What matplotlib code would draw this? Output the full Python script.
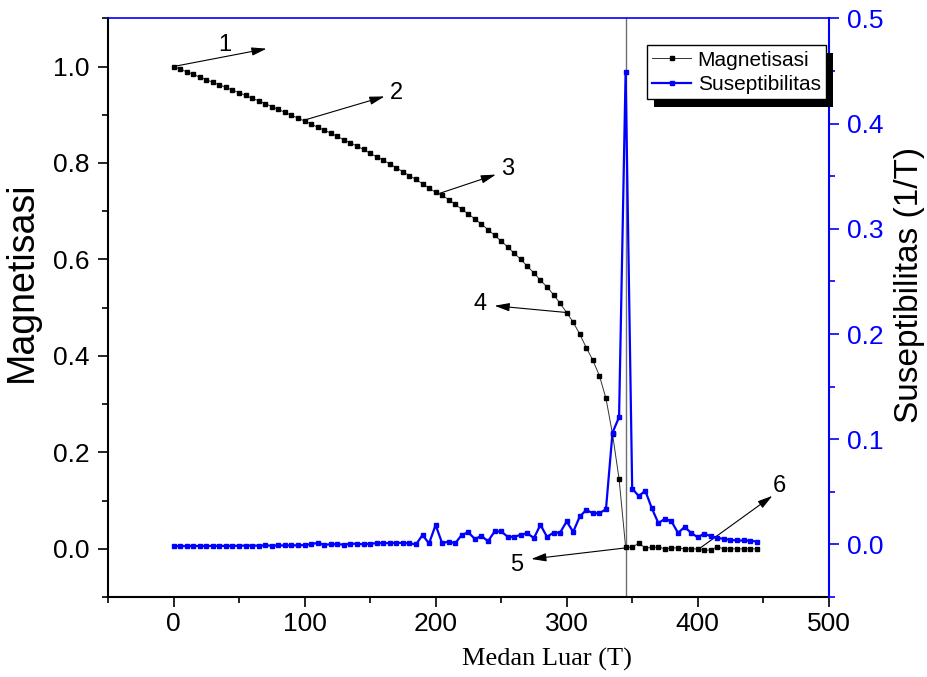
import numpy as np
import matplotlib
matplotlib.use("Agg")
import matplotlib.pyplot as plt
from matplotlib.patches import Rectangle
from matplotlib.ticker import MultipleLocator

# external field (T), one point every 5 T
medan = np.arange(0, 450, 5)

magnetisasi = [
    1.000, 0.995, 0.989, 0.984, 0.978, 0.973, 0.967, 0.962, 0.957, 0.951,
    0.946, 0.940, 0.934, 0.929, 0.923, 0.917, 0.911, 0.905, 0.899, 0.893,
    0.887, 0.881, 0.874, 0.868, 0.862, 0.855, 0.848, 0.842, 0.835, 0.828,
    0.820, 0.813, 0.806, 0.798, 0.790, 0.782, 0.774, 0.766, 0.757, 0.748,
    0.739, 0.733, 0.724, 0.714, 0.704, 0.694, 0.684, 0.673, 0.662, 0.650,
    0.638, 0.626, 0.613, 0.600, 0.586, 0.572, 0.557, 0.543, 0.527, 0.509,
    0.490, 0.470, 0.445, 0.417, 0.391, 0.359, 0.312, 0.238, 0.145, 0.004,
    0.003, 0.012, 0.002, 0.003, 0.004, 0.000, 0.002, 0.002, 0.000, 0.000,
    0.000, -0.003, -0.002, 0.004, 0.000, 0.000, 0.000, 0.000, 0.000, 0.000,
]

suseptibilitas = [
    -0.0015, -0.0015, -0.0015, -0.0014, -0.0015, -0.0014, -0.0014, -0.0013, -0.0014, -0.0012,
    -0.0013, -0.0010, -0.0011, -0.0011, -0.0009, -0.0011, -0.0009, -0.0009, -0.0008, -0.0008,
    -0.0005, 0.0003, 0.0015, -0.0003, 0.0002, 0.0004, -0.0002, 0.0008, 0.0006, 0.0002,
    0.0008, 0.0012, 0.0014, 0.0013, 0.0016, 0.0015, 0.0012, 0.0000, 0.0090, 0.0010,
    0.0185, 0.0012, 0.0028, 0.0012, 0.0092, 0.0115, 0.0052, 0.0082, 0.0030, 0.0124,
    0.0124, 0.0074, 0.0073, 0.0092, 0.0108, 0.0060, 0.0188, 0.0072, 0.0113, 0.0113,
    0.0219, 0.0120, 0.0266, 0.0328, 0.0297, 0.0297, 0.0335, 0.1063, 0.1210, 0.4490,
    0.0532, 0.0460, 0.0510, 0.0344, 0.0203, 0.0244, 0.0219, 0.0110, 0.0166, 0.0110,
    0.0069, 0.0103, 0.0078, 0.0063, 0.0053, 0.0044, 0.0038, 0.0038, 0.0036, 0.0028,
]

# numbered arrows: (label, start x, start y, head x, head y, text x, text y)
panah = [
    ("1", 0, 1.000, 71, 1.037, 39, 1.045),
    ("2", 100, 0.889, 161, 0.938, 170, 0.945),
    ("3", 203, 0.737, 246, 0.776, 255, 0.788),
    ("4", 300, 0.490, 245, 0.504, 234, 0.508),
    ("5", 345, 0.002, 273, -0.021, 262, -0.033),
    ("6", 401, 0.000, 457, 0.110, 462, 0.131),
]

BLUE = "#0000ff"

fig = plt.figure(figsize=(9.27, 6.77), dpi=100)
fig.patch.set_facecolor("white")
ax = fig.add_axes([0.1165, 0.118, 0.7775, 0.855])
ax2 = ax.twinx()

ax.plot(medan, magnetisasi, color="#333333", lw=0.7, marker="s",
        markersize=3.4, markerfacecolor="black", markeredgecolor="black",
        label="Magnetisasi", zorder=3)
ax2.plot(medan, suseptibilitas, color=BLUE, lw=1.6, marker="s",
         markersize=3.4, markerfacecolor=BLUE, markeredgecolor=BLUE,
         label="Suseptibilitas", zorder=3)
ax.axvline(345, color="#707070", lw=1.0, zorder=2)

ax.set_xlim(-50, 500)
ax.set_ylim(-0.1, 1.1)
ax2.set_ylim(-0.05, 0.5)

ax.xaxis.set_major_locator(MultipleLocator(100))
ax.xaxis.set_minor_locator(MultipleLocator(50))
ax.yaxis.set_minor_locator(MultipleLocator(0.1))
ax2.yaxis.set_minor_locator(MultipleLocator(0.05))
ax.set_yticks([0.0, 0.2, 0.4, 0.6, 0.8, 1.0])
ax.set_yticklabels(["0.0", "0.2", "0.4", "0.6", "0.8", "1.0"])
ax2.set_yticks([0.0, 0.1, 0.2, 0.3, 0.4, 0.5])
ax2.set_yticklabels(["0.0", "0.1", "0.2", "0.3", "0.4", "0.5"])

sans = ["Liberation Sans", "DejaVu Sans"]
serif = ["Liberation Serif", "DejaVu Serif"]

ax.tick_params(axis="y", which="major", direction="out", length=7, width=1.2,
               labelsize=19, pad=6)
ax.tick_params(axis="y", which="minor", direction="out", length=4, width=1.2)
ax.tick_params(axis="x", which="major", direction="out", length=7, width=1.2,
               labelsize=19, pad=4)
ax.tick_params(axis="x", which="minor", direction="out", length=4, width=1.2)
ax2.tick_params(axis="y", which="major", direction="out", length=7, width=1.2,
                labelsize=19, colors=BLUE, pad=6)
ax2.tick_params(axis="y", which="minor", direction="out", length=4, width=1.2,
                colors=BLUE)
for lab in ax.get_yticklabels() + ax2.get_yticklabels() + ax.get_xticklabels():
    lab.set_family(sans)

for sp in ("left", "bottom"):
    ax.spines[sp].set_linewidth(1.5)
ax.spines["top"].set_color(BLUE)
ax.spines["top"].set_linewidth(1.2)
ax2.spines["top"].set_visible(False)
ax2.spines["left"].set_visible(False)
ax2.spines["bottom"].set_visible(False)
ax2.spines["right"].set_color(BLUE)
ax2.spines["right"].set_linewidth(1.5)
ax.spines["right"].set_visible(False)

ax.set_ylabel("Magnetisasi", fontsize=27, family=sans)
ax.yaxis.set_label_coords(-0.094, 0.545)
ax2.set_ylabel("Suseptibilitas (1/T)", fontsize=24, family=sans)
ax2.yaxis.set_label_coords(1.09, 0.54)
ax.set_xlabel("Medan Luar (T)", fontsize=19, family=serif)
ax.xaxis.set_label_coords(0.609, -0.088)

for lab, x0, y0, x1, y1, tx, ty in panah:
    ax.annotate("", xy=(x1, y1), xytext=(x0, y0),
                arrowprops=dict(arrowstyle="-|>,head_length=0.9,head_width=0.25",
                                color="black", lw=0.8, shrinkA=0, shrinkB=0),
                zorder=4)
    ax.text(tx, ty, lab, fontsize=17, family=sans, ha="center", va="center")

h1, l1 = ax.get_legend_handles_labels()
h2, l2 = ax2.get_legend_handles_labels()
leg = ax2.legend(h1 + h2, l1 + l2, loc="upper right",
                 bbox_to_anchor=(0.996, 0.953), prop={"family": sans, "size": 15},
                 frameon=True, fancybox=False, edgecolor="black", framealpha=1,
                 borderpad=0.25, handlelength=1.9, handletextpad=0.3,
                 labelspacing=0.25, borderaxespad=0)
leg.get_frame().set_linewidth(1.0)
leg.set_zorder(10)

# solid black drop shadow behind the legend box
fig.canvas.draw()
bb = leg.get_window_extent()
inv = ax2.transAxes.inverted()
(ax0, ay0), (ax1_, ay1) = inv.transform([(bb.x0 + 7, bb.y0 - 8), (bb.x1 + 7, bb.y1 - 8)])
ax2.add_patch(Rectangle((ax0, ay0), ax1_ - ax0, ay1 - ay0, transform=ax2.transAxes,
                        facecolor="black", edgecolor="none", zorder=9,
                        clip_on=False))

fig.savefig("out.png", dpi=100)
